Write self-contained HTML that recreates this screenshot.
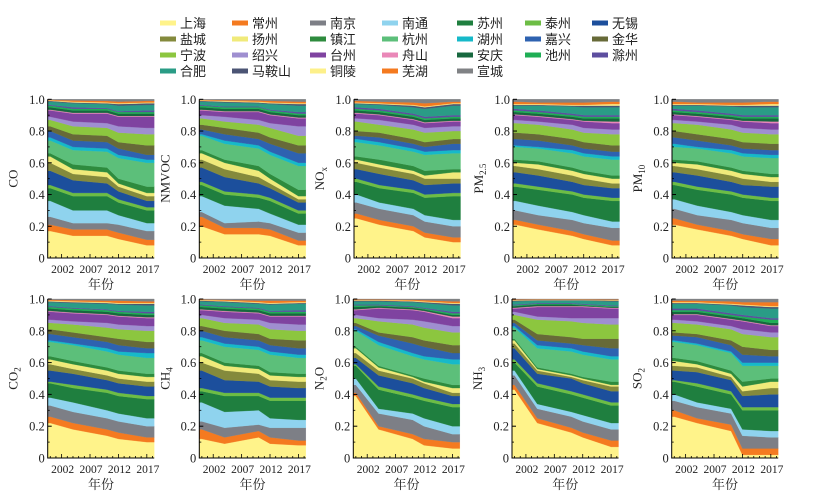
<!DOCTYPE html>
<html><head><meta charset="utf-8">
<style>
html,body{margin:0;padding:0;background:#fff;}
svg{display:block;font-family:"Liberation Serif","Noto Serif CJK SC",serif;}
</style></head>
<body>
<svg id="chart" width="826" height="503" viewBox="0 0 826 503" xmlns="http://www.w3.org/2000/svg">
<g id="legend"></g>
<g id="panels"></g>
</svg>
<script>
const cities = ["上海","常州","南京","南通","苏州","泰州","无锡","盐城","扬州","镇江","杭州","湖州","嘉兴","金华","宁波","绍兴","台州","舟山","安庆","池州","滁州","合肥","马鞍山","铜陵","芜湖","宣城"];
const colors = ["#fff38a","#f47a20","#7d7f86","#8fd3ee","#1f7f3f","#6dbd45","#1c4f9c","#848a3c","#f0ea7a","#2e8b3e","#5cbf7a","#16b9c9","#2e62b0","#676a38","#8cc63f","#9f8fd0","#7f43a0","#ea88b8","#17683f","#1fae55","#5d4e9f","#2a9c86","#4b5474","#fdf08a","#f47a20","#808285"];
const years = [2000,2004,2010,2012,2017];
const xTicks = [2002,2007,2012,2017];
const yTicks = [0,0.2,0.4,0.6,0.8,1.0];
const yTickLabels = ["0","0.2","0.4","0.6","0.8","1.0"];
// cumulative share (top of each city's band, bottom-up, last city = 1.0), one row per year
const CO = [
[.17,.21,.26,.36,.44,.46,.55,.60,.64,.66,.74,.76,.80,.83,.87,.89,.93,.935,.95,.96,.965,.985,.99,.993,.997],
[.14,.18,.22,.30,.39,.41,.49,.53,.56,.59,.68,.70,.74,.78,.83,.86,.91,.915,.93,.94,.95,.975,.98,.985,.993],
[.14,.18,.22,.30,.39,.41,.47,.51,.54,.57,.67,.69,.73,.77,.82,.85,.91,.915,.93,.94,.945,.97,.975,.98,.99],
[.12,.16,.21,.27,.35,.37,.42,.45,.47,.50,.63,.65,.69,.73,.79,.83,.89,.895,.91,.92,.925,.96,.97,.975,.985],
[.08,.115,.17,.22,.30,.32,.36,.39,.41,.45,.60,.62,.65,.71,.78,.82,.89,.895,.91,.92,.93,.965,.975,.98,.99]];
const NMVOC = [
[.20,.26,.29,.39,.46,.48,.57,.62,.66,.68,.77,.78,.81,.84,.88,.90,.93,.935,.95,.96,.965,.985,.99,.993,.997],
[.15,.19,.22,.33,.40,.42,.51,.56,.60,.62,.72,.74,.78,.82,.86,.89,.92,.925,.94,.95,.955,.98,.985,.99,.995],
[.15,.19,.23,.31,.38,.40,.47,.51,.55,.58,.69,.71,.75,.79,.84,.87,.92,.925,.94,.95,.955,.975,.98,.985,.993],
[.14,.18,.22,.28,.36,.38,.44,.47,.50,.53,.65,.67,.72,.76,.82,.85,.90,.905,.92,.93,.935,.97,.975,.98,.99],
[.08,.11,.16,.21,.28,.30,.35,.37,.39,.43,.58,.60,.66,.71,.77,.83,.88,.885,.90,.91,.92,.96,.97,.975,.985]];
const NOX = [
[.25,.28,.35,.40,.48,.50,.56,.60,.62,.64,.73,.75,.77,.80,.86,.88,.91,.915,.93,.94,.95,.97,.975,.98,.99],
[.21,.24,.31,.35,.44,.46,.53,.57,.59,.62,.71,.73,.76,.79,.84,.87,.90,.905,.92,.93,.94,.965,.97,.975,.985],
[.17,.20,.27,.31,.41,.43,.49,.53,.55,.58,.67,.69,.72,.75,.81,.84,.87,.875,.89,.90,.91,.95,.96,.965,.98],
[.13,.16,.23,.27,.38,.40,.46,.50,.52,.55,.65,.67,.70,.73,.79,.82,.85,.855,.87,.88,.89,.94,.95,.955,.975],
[.10,.13,.20,.24,.39,.41,.47,.50,.54,.56,.66,.68,.72,.75,.80,.83,.86,.865,.88,.89,.90,.96,.97,.975,.985]];
const PM25 = [
[.21,.24,.30,.36,.45,.47,.54,.58,.60,.62,.70,.71,.75,.79,.85,.87,.90,.905,.92,.93,.94,.96,.965,.97,.985],
[.18,.21,.27,.33,.43,.45,.52,.56,.59,.61,.69,.70,.74,.78,.84,.86,.89,.895,.91,.92,.93,.96,.965,.97,.98],
[.14,.17,.24,.29,.40,.42,.48,.52,.55,.57,.66,.68,.71,.75,.81,.84,.87,.875,.89,.90,.91,.955,.96,.965,.98],
[.12,.15,.22,.27,.38,.40,.46,.50,.53,.55,.64,.66,.69,.73,.79,.82,.86,.865,.88,.89,.90,.95,.96,.965,.98],
[.08,.11,.19,.23,.36,.38,.44,.47,.50,.52,.62,.64,.67,.71,.78,.81,.85,.86,.88,.89,.90,.95,.96,.97,.985]];
const PM10 = [
[.21,.25,.31,.37,.46,.48,.54,.58,.60,.62,.70,.72,.76,.80,.85,.87,.90,.905,.92,.93,.94,.96,.965,.97,.985],
[.18,.21,.27,.33,.43,.45,.52,.56,.59,.61,.69,.70,.74,.78,.84,.86,.89,.895,.91,.92,.93,.96,.965,.97,.98],
[.14,.17,.24,.29,.40,.42,.48,.52,.55,.57,.66,.68,.71,.75,.81,.84,.87,.875,.89,.90,.91,.955,.96,.965,.98],
[.12,.15,.22,.27,.38,.40,.46,.50,.53,.55,.64,.66,.69,.73,.79,.82,.86,.865,.88,.89,.90,.95,.96,.965,.98],
[.08,.12,.19,.24,.36,.38,.45,.48,.51,.53,.63,.65,.68,.72,.78,.81,.85,.86,.88,.89,.90,.95,.96,.97,.985]];
const CO2 = [
[.22,.26,.33,.38,.47,.48,.55,.59,.62,.64,.73,.74,.78,.81,.85,.87,.92,.925,.94,.95,.955,.98,.985,.99,.995],
[.18,.22,.29,.35,.44,.46,.53,.56,.59,.61,.71,.72,.76,.79,.84,.86,.91,.915,.93,.94,.945,.975,.98,.985,.993],
[.14,.18,.25,.30,.41,.43,.49,.52,.55,.57,.67,.69,.73,.76,.82,.85,.90,.905,.92,.93,.935,.97,.975,.98,.99],
[.12,.16,.23,.28,.39,.41,.47,.50,.53,.55,.65,.67,.71,.75,.81,.84,.89,.895,.91,.92,.925,.965,.97,.975,.99],
[.10,.13,.20,.25,.37,.39,.45,.48,.51,.53,.63,.66,.69,.73,.80,.83,.88,.885,.90,.91,.92,.96,.97,.975,.985]];
const CH4 = [
[.12,.18,.23,.35,.42,.44,.55,.60,.64,.66,.74,.76,.80,.83,.88,.90,.93,.935,.95,.96,.965,.985,.99,.993,.997],
[.09,.13,.19,.29,.39,.41,.49,.55,.58,.60,.70,.72,.76,.80,.85,.88,.92,.925,.94,.95,.955,.98,.985,.99,.995],
[.13,.17,.21,.30,.39,.41,.48,.53,.56,.58,.68,.70,.74,.78,.84,.87,.91,.915,.93,.94,.945,.97,.975,.98,.99],
[.09,.13,.19,.25,.36,.38,.45,.49,.52,.54,.65,.67,.71,.75,.81,.85,.89,.895,.91,.92,.925,.965,.97,.975,.99],
[.08,.11,.19,.24,.36,.38,.44,.48,.51,.53,.63,.65,.69,.74,.80,.84,.89,.895,.91,.92,.93,.97,.975,.98,.99]];
const N2O = [
[.39,.41,.46,.50,.58,.59,.63,.66,.69,.70,.80,.81,.83,.85,.88,.90,.93,.935,.95,.96,.965,.985,.99,.993,.997],
[.18,.20,.28,.31,.43,.45,.52,.55,.57,.58,.71,.73,.77,.79,.86,.88,.94,.945,.955,.96,.965,.985,.99,.993,.997],
[.12,.15,.24,.28,.38,.40,.47,.50,.51,.52,.64,.66,.72,.76,.84,.87,.93,.935,.945,.95,.955,.98,.985,.99,.995],
[.08,.12,.20,.25,.36,.38,.44,.47,.48,.50,.62,.64,.70,.74,.82,.86,.92,.925,.935,.94,.945,.975,.98,.985,.993],
[.06,.10,.15,.20,.32,.34,.39,.41,.44,.46,.59,.62,.66,.71,.79,.83,.88,.89,.90,.91,.92,.96,.97,.975,.985]];
const NH3 = [
[.43,.46,.52,.55,.60,.62,.69,.72,.74,.75,.82,.83,.85,.87,.90,.92,.94,.945,.955,.96,.965,.985,.99,.993,.997],
[.22,.25,.31,.34,.45,.47,.53,.55,.56,.57,.69,.71,.74,.78,.87,.89,.95,.955,.965,.97,.975,.99,.993,.995,.998],
[.16,.19,.26,.29,.40,.42,.50,.51,.52,.53,.67,.69,.72,.76,.86,.88,.95,.955,.965,.97,.975,.99,.993,.995,.998],
[.13,.16,.23,.27,.38,.40,.47,.49,.50,.51,.65,.67,.71,.75,.85,.88,.95,.955,.96,.965,.97,.99,.993,.995,.998],
[.07,.11,.18,.22,.33,.35,.42,.45,.46,.48,.62,.64,.69,.75,.84,.88,.94,.945,.95,.955,.96,.985,.99,.993,.997]];
const SO2 = [
[.26,.30,.36,.40,.48,.49,.55,.58,.61,.63,.73,.74,.77,.79,.85,.87,.90,.905,.92,.93,.94,.97,.975,.98,.99],
[.22,.25,.32,.35,.45,.47,.54,.57,.59,.61,.71,.72,.76,.78,.84,.86,.90,.905,.92,.93,.94,.97,.975,.98,.99],
[.17,.21,.28,.31,.40,.42,.49,.51,.53,.55,.66,.67,.71,.74,.81,.83,.87,.875,.89,.90,.91,.96,.965,.97,.985],
[.02,.06,.14,.18,.30,.32,.39,.42,.45,.48,.58,.60,.65,.70,.78,.81,.86,.865,.88,.89,.90,.95,.96,.965,.98],
[.02,.06,.13,.17,.30,.32,.40,.44,.48,.50,.58,.60,.64,.68,.76,.79,.83,.835,.85,.87,.88,.94,.95,.955,.98]];

const NS = "http://www.w3.org/2000/svg";
function mk(tag, attrs, parent){const e=document.createElementNS(NS,tag);for(const k in attrs)e.setAttribute(k,attrs[k]);parent.appendChild(e);return e;}

// legend
const lg = document.getElementById('legend');
const colX = [160,232,310,382,457,525,592];
const rowY = [23,39,55,71];
cities.forEach((c,i)=>{
  const gx = colX[i%7], gy = rowY[Math.floor(i/7)];
  const g = mk('g',{},lg);
  
  
  mk('rect',{x:gx,y:gy-2.5,width:16,height:5,fill:colors[i]},g);
  const t = mk('text',{x:gx+20,y:gy+5,'font-size':13,fill:'#222','font-family':'"Liberation Sans","Noto Sans CJK SC",sans-serif'},g);
  t.textContent = c;
});

const panels = [
 {name:"co",data:CO,label:["CO",""],L:47.7,T:99.3,B:258},
 {name:"nmvoc",data:NMVOC,label:["NMVOC",""],L:199.3,T:99.3,B:258},
 {name:"nox",data:NOX,label:["NO","x"],L:354,T:99.3,B:258},
 {name:"pm25",data:PM25,label:["PM","2.5"],L:513,T:99.3,B:258},
 {name:"pm10",data:PM10,label:["PM","10"],L:672,T:99.3,B:258},
 {name:"co2",data:CO2,label:["CO","2"],L:47.7,T:299,B:458},
 {name:"ch4",data:CH4,label:["CH","4"],L:199.3,T:299,B:458},
 {name:"n2o",data:N2O,label:["N","2","O"],L:353.3,T:299,B:458},
 {name:"nh3",data:NH3,label:["NH","3"],L:512,T:299,B:458},
 {name:"so2",data:SO2,label:["SO","2"],L:671.7,T:299,B:458}];
const W = 106.5, X0 = 1999.55, X1 = 2018.3;
const root = document.getElementById('panels');
panels.forEach(p=>{
  const g = mk('g',{},root);
  
  
  const x = v => p.L + (v-X0)/(X1-X0)*W;
  const y = v => p.B - v*(p.B-p.T);
  const xs = [x(X0)].concat(years.map(x)).concat([x(X1)]);
  const cum = k => {
    const vals = p.data.map(row => k<0?0:(k>=row.length?1:row[k]));
    return [vals[0]].concat(vals).concat([vals[vals.length-1]]);
  };
  for(let k=0;k<cities.length;k++){
    const top = cum(k), bot = cum(k-1);
    let d = 'M'+xs.map((xx,i)=>xx.toFixed(2)+','+y(top[i]).toFixed(2)).join('L');
    for(let i=xs.length-1;i>=0;i--) d += 'L'+xs[i].toFixed(2)+','+y(bot[i]).toFixed(2);
    d += 'Z';
    const a = mk('path',{d:d,fill:colors[k],stroke:colors[k],'stroke-width':0.3},g);
    
    
  }
  const ax = mk('path',{d:`M${p.L},${p.T}L${p.L},${p.B}L${p.L+W},${p.B}`,fill:'none',stroke:'#000','stroke-width':1},g);
  
  
  yTicks.forEach((t,i)=>{
    mk('line',{x1:p.L,x2:p.L+4,y1:y(t),y2:y(t),stroke:'#000','stroke-width':1},g);
    if(i<yTicks.length-1) mk('line',{x1:p.L,x2:p.L+2,y1:y(t+0.1),y2:y(t+0.1),stroke:'#000','stroke-width':0.8},g);
    const tl = mk('text',{x:p.L-3,y:y(t)+4.5,'font-size':12.5,'text-anchor':'end',fill:'#222'},g);
    
    
    tl.textContent = yTickLabels[i];
  });
  for(let yr=2000; yr<=2018; yr++){
    const big = xTicks.includes(yr);
    mk('line',{x1:x(yr),x2:x(yr),y1:p.B,y2:p.B-(big?4:2),stroke:'#000','stroke-width':0.8},g);
  }
  xTicks.forEach(t=>{
    const tl = mk('text',{x:x(t)+1,y:p.B+15,'font-size':11.5,'text-anchor':'middle',fill:'#222'},g);
    
    
    tl.textContent = t;
  });
  const xt = mk('text',{x:p.L+W/2,y:p.B+31,'font-size':13,'text-anchor':'middle',fill:'#222','font-family':'"Liberation Serif","Noto Serif CJK SC",serif'},g);
  
  
  xt.textContent = '年份';
  const cy = (p.T+p.B)/2;
  const yt = mk('text',{x:0,y:0,'font-size':13,'text-anchor':'middle',fill:'#222',transform:`translate(${p.L-30},${cy}) rotate(-90)`},g);
  
  
  const s1 = mk('tspan',{},yt); s1.textContent = p.label[0];
  if(p.label[1]){ const s2 = mk('tspan',{'font-size':9,dy:3},yt); s2.textContent = p.label[1]; }
  if(p.label[2]){ const s3 = mk('tspan',{dy:-3},yt); s3.textContent = p.label[2]; }
});
</script>
</body></html>
